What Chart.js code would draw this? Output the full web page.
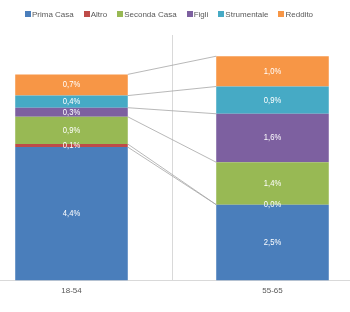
<!DOCTYPE html>
<html>
<head>
<meta charset="utf-8">
<script src="https://cdn.jsdelivr.net/npm/chart.js@4/dist/chart.umd.min.js"></script>
<style>
  html, body { margin: 0; padding: 0; background: #fff; overflow: hidden; }
  #wrap { position: relative; width: 350px; height: 312px; overflow: hidden; }
  #box { position: absolute; left: -29px; top: 0; width: 402px; height: 312px; }
  #legend { position: absolute; left: 0; top: 10px; width: 338px; text-align: center;
            font: 8px "Liberation Sans", Arial, sans-serif; color: #595959; white-space: nowrap; }
  #legend span.item { display: inline-block; margin: 0 5px; }
  #legend i { display: inline-block; width: 6px; height: 6px; margin-right: 1px; vertical-align: 0px; }
</style>
</head>
<body>
<div id="wrap">
  <div id="box"><canvas id="chart" width="402" height="312"></canvas></div>
  <div id="legend"></div>
</div>
<script>
const categories = ['18-54', '55-65'];
const seriesNames = ['Prima Casa', 'Altro', 'Seconda Casa', 'Figli', 'Strumentale', 'Reddito'];
const primaCasa = [4.4, 2.5];
const altro = [0.1, 0.0];
const secondaCasa = [0.9, 1.4];
const figli = [0.3, 1.6];
const strumentale = [0.4, 0.9];
const reddito = [0.7, 1.0];
const colors = ['#4a7ebb', '#be4b48', '#98b954', '#7d60a0', '#46aac5', '#f79646'];

const seriesValues = [primaCasa, altro, secondaCasa, figli, strumentale, reddito];

// html legend
const legendEl = document.getElementById('legend');
seriesNames.forEach((name, i) => {
  const s = document.createElement('span');
  s.className = 'item';
  s.innerHTML = '<i style="background:' + colors[i] + '"></i>' + name;
  legendEl.appendChild(s);
});

const fmt = v => v.toFixed(1).replace('.', ',') + '%';

// excel-like series lines between the two stacks
const seriesLines = {
  id: 'seriesLines',
  afterDatasetsDraw(chart) {
    const ctx = chart.ctx;
    ctx.save();
    ctx.strokeStyle = '#a6a6a6';
    ctx.lineWidth = 0.8;
    chart.data.datasets.forEach((ds, i) => {
      const meta = chart.getDatasetMeta(i);
      const a = meta.data[0], b = meta.data[1];
      ctx.beginPath();
      ctx.moveTo(a.x + a.width / 2, a.y);
      ctx.lineTo(b.x - b.width / 2, b.y);
      ctx.stroke();
    });
    ctx.restore();
  }
};

// white value labels, squeezed a bit to look like a narrow font
const dataLabels = {
  id: 'dataLabels',
  afterDatasetsDraw(chart) {
    const ctx = chart.ctx;
    chart.data.datasets.forEach((ds, i) => {
      const meta = chart.getDatasetMeta(i);
      meta.data.forEach((el, j) => {
        ctx.save();
        ctx.translate(el.x, (el.y + el.base) / 2);
        ctx.scale(0.85, 1);
        ctx.fillStyle = '#ffffff';
        ctx.font = '9px "Liberation Sans", Arial, sans-serif';
        ctx.textAlign = 'center';
        ctx.textBaseline = 'middle';
        ctx.fillText(fmt(ds.data[j]), 0, 0);
        ctx.restore();
      });
    });
  }
};

new Chart(document.getElementById('chart'), {
  type: 'bar',
  data: {
    labels: categories,
    datasets: seriesNames.map((name, i) => ({
      label: name,
      data: seriesValues[i],
      backgroundColor: colors[i],
      borderWidth: 0,
      barPercentage: 0.56,
      categoryPercentage: 1,
    })),
  },
  options: {
    responsive: false,
    animation: false,
    events: [],
    layout: { padding: { top: 35, left: 0, right: 0, bottom: 10 } },
    plugins: {
      legend: { display: false },
      tooltip: { enabled: false },
    },
    scales: {
      x: {
        stacked: true,
        grid: { color: '#d9d9d9', drawTicks: false, offset: true },
        border: { color: '#d9d9d9' },
        ticks: {
          color: '#595959',
          padding: 6,
          font: { size: 8, family: '"Liberation Sans", Arial, sans-serif' },
        },
      },
      y: {
        stacked: true,
        display: false,
        min: 0,
        max: 8.1,
      },
    },
  },
  plugins: [seriesLines, dataLabels],
});
</script>
</body>
</html>
